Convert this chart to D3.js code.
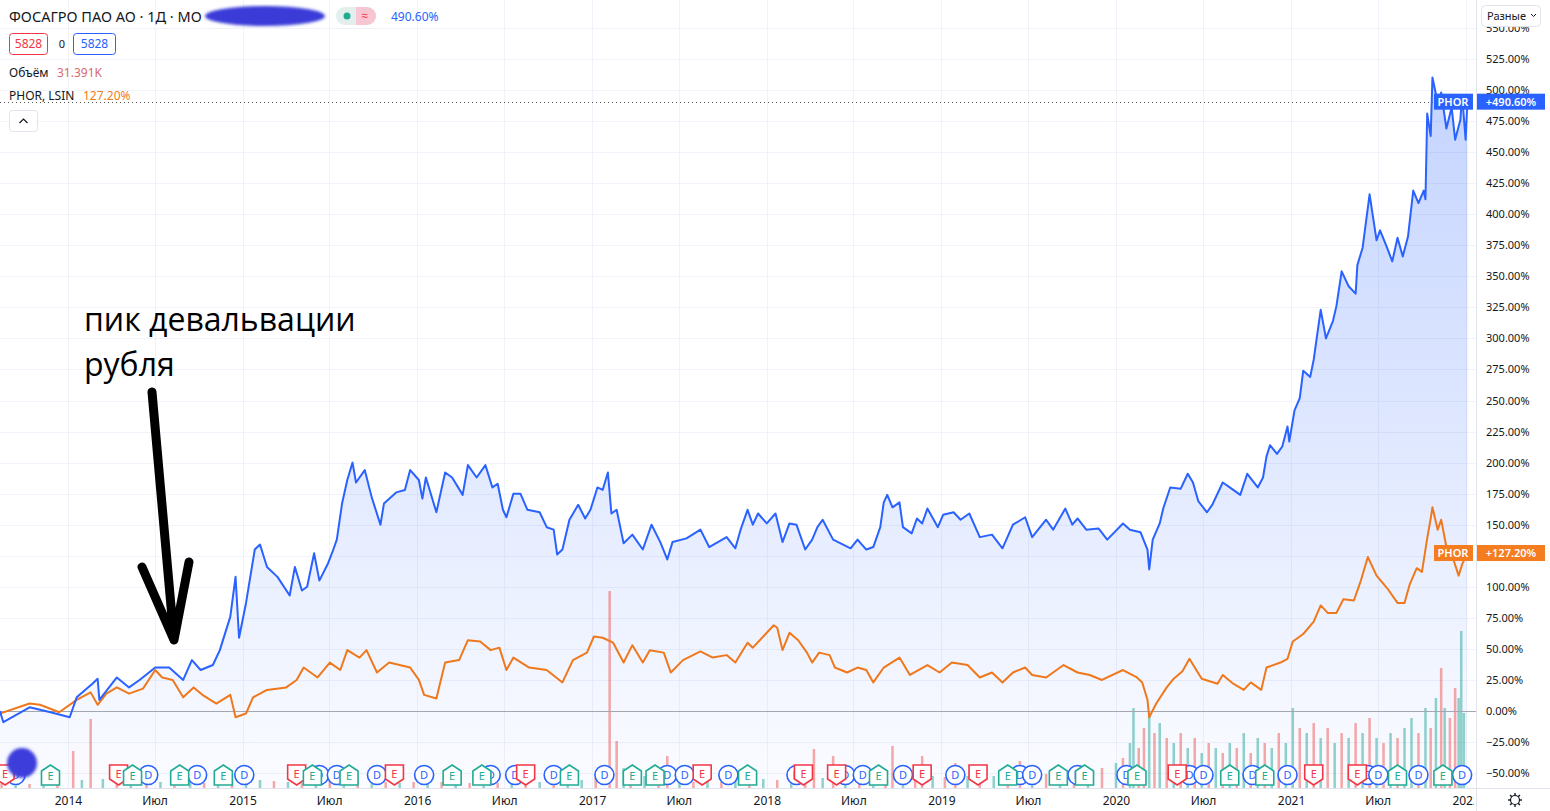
<!DOCTYPE html>
<html><head><meta charset="utf-8">
<script src="https://cdn.jsdelivr.net/npm/d3@7"></script>
<style>
html,body{margin:0;padding:0;background:#fff;}
svg{display:block;font-family:"Noto Sans","Open Sans",sans-serif;}
</style></head>
<body>
<svg id="c" width="1550" height="811"></svg>
<script>
// ---------- DATA (decimal year, % change) ----------
const phosagroSeries = [
[2013.61,0],[2013.63,-9],[2013.78,3],[2013.90,-1],[2014.01,-5],[2014.05,11],[2014.14,22],[2014.17,26],[2014.18,9],
[2014.28,27],[2014.35,19],[2014.41,25],[2014.50,35],[2014.58,35],[2014.66,25],[2014.71,41],[2014.76,33],[2014.83,37],
[2014.87,49],[2014.93,76],[2014.96,108],[2014.98,59],[2015.02,87],[2015.07,130],[2015.10,134],[2015.14,116],[2015.20,108],
[2015.27,93],[2015.30,116],[2015.34,97],[2015.37,100],[2015.41,127],[2015.44,105],[2015.49,119],[2015.52,130],[2015.54,138],
[2015.57,167],[2015.60,186],[2015.63,200],[2015.65,184],[2015.70,194],[2015.74,172],[2015.79,150],[2015.81,167],[2015.88,176],
[2015.93,178],[2015.96,194],[2016.01,186],[2016.03,171],[2016.05,188],[2016.11,160],[2016.16,192],[2016.20,188],[2016.26,174],
[2016.29,198],[2016.34,188],[2016.39,198],[2016.43,180],[2016.46,183],[2016.49,162],[2016.51,156],[2016.55,175],[2016.59,175],
[2016.63,162],[2016.70,160],[2016.74,148],[2016.78,146],[2016.80,126],[2016.83,130],[2016.87,154],[2016.92,166],[2016.96,155],
[2016.99,162],[2017.03,180],[2017.06,178],[2017.09,192],[2017.11,159],[2017.14,162],[2017.18,135],[2017.23,142],[2017.29,130],
[2017.34,150],[2017.39,136],[2017.43,122],[2017.46,136],[2017.54,139],[2017.62,146],[2017.67,132],[2017.77,140],[2017.82,131],
[2017.85,146],[2017.89,162],[2017.92,150],[2017.95,159],[2018.00,151],[2018.05,159],[2018.09,136],[2018.13,151],[2018.17,150],
[2018.22,130],[2018.26,138],[2018.29,148],[2018.32,154],[2018.38,138],[2018.48,131],[2018.52,138],[2018.57,130],[2018.61,132],
[2018.65,148],[2018.67,168],[2018.69,174],[2018.72,164],[2018.76,168],[2018.78,148],[2018.83,143],[2018.86,155],[2018.89,151],
[2018.92,163],[2018.98,148],[2019.01,158],[2019.07,160],[2019.11,154],[2019.16,159],[2019.22,140],[2019.29,142],[2019.35,131],
[2019.41,150],[2019.48,156],[2019.52,140],[2019.60,154],[2019.64,146],[2019.71,163],[2019.75,150],[2019.78,155],[2019.83,146],
[2019.90,147],[2019.95,138],[2020.04,151],[2020.08,146],[2020.14,144],[2020.18,130],[2020.19,114],[2020.21,138],[2020.25,151],
[2020.27,163],[2020.31,180],[2020.37,179],[2020.41,191],[2020.44,184],[2020.47,169],[2020.52,160],[2020.55,166],[2020.61,184],
[2020.65,180],[2020.71,174],[2020.75,191],[2020.81,180],[2020.84,188],[2020.86,205],[2020.88,214],[2020.92,207],[2020.95,213],
[2020.98,229],[2020.99,217],[2021.02,242],[2021.05,252],[2021.07,274],[2021.11,269],[2021.13,283],[2021.15,303],[2021.17,323],
[2021.20,300],[2021.24,314],[2021.26,326],[2021.29,354],[2021.33,342],[2021.37,336],[2021.38,359],[2021.41,373],[2021.45,416],
[2021.49,379],[2021.51,387],[2021.55,373],[2021.58,362],[2021.61,381],[2021.64,366],[2021.67,382],[2021.70,419],[2021.73,409],
[2021.76,419],[2021.77,412],[2021.78,481],[2021.80,463],[2021.81,510],[2021.84,490],[2021.86,498],[2021.89,469],[2021.92,486],
[2021.94,460],[2021.97,476],[2021.98,496],[2022.00,460],[2022.01,490.6]
];
const phorSeries = [
[2013.61,-2],[2013.78,6],[2013.84,5],[2013.95,-1],[2014.05,9],[2014.13,15],[2014.17,5],[2014.22,14],[2014.28,19],[2014.35,14],
[2014.43,18],[2014.50,33],[2014.54,27],[2014.60,25],[2014.66,11],[2014.72,19],[2014.77,13],[2014.85,6],[2014.93,13],[2014.96,-5],
[2015.02,-2],[2015.06,11],[2015.14,17],[2015.25,19],[2015.31,25],[2015.35,35],[2015.43,27],[2015.50,39],[2015.56,33],[2015.60,49],
[2015.67,43],[2015.71,49],[2015.77,31],[2015.84,39],[2015.96,35],[2016.01,25],[2016.04,13],[2016.11,10],[2016.16,39],[2016.24,41],
[2016.29,57],[2016.36,56],[2016.42,49],[2016.47,51],[2016.51,33],[2016.55,43],[2016.64,35],[2016.74,33],[2016.83,23],[2016.89,41],
[2016.97,47],[2017.01,60],[2017.06,59],[2017.12,55],[2017.18,39],[2017.23,53],[2017.29,39],[2017.33,49],[2017.41,47],[2017.45,31],
[2017.52,41],[2017.62,48],[2017.69,43],[2017.77,45],[2017.82,39],[2017.89,55],[2017.92,51],[2017.98,60],[2018.04,69],[2018.06,67],
[2018.09,49],[2018.13,63],[2018.18,57],[2018.23,47],[2018.26,39],[2018.30,47],[2018.36,45],[2018.39,35],[2018.46,31],[2018.52,35],
[2018.57,33],[2018.61,23],[2018.67,35],[2018.76,43],[2018.82,29],[2018.92,37],[2018.99,31],[2019.06,39],[2019.15,37],[2019.22,27],
[2019.29,31],[2019.35,23],[2019.41,31],[2019.48,35],[2019.52,29],[2019.60,27],[2019.70,37],[2019.78,31],[2019.85,29],[2019.92,25],
[2020.04,33],[2020.12,27],[2020.15,23],[2020.18,9],[2020.19,-5],[2020.23,6],[2020.29,19],[2020.33,26],[2020.38,32],[2020.42,42],
[2020.45,35],[2020.49,26],[2020.58,22],[2020.61,29],[2020.67,22],[2020.73,17],[2020.77,23],[2020.83,17],[2020.86,35],[2020.94,39],
[2020.98,42],[2021.01,56],[2021.07,62],[2021.13,72],[2021.17,85],[2021.21,79],[2021.26,79],[2021.30,90],[2021.36,89],[2021.40,105],
[2021.44,124],[2021.49,109],[2021.55,99],[2021.61,87],[2021.65,87],[2021.68,102],[2021.72,115],[2021.75,112],[2021.78,139],
[2021.80,155],[2021.81,164],[2021.84,146],[2021.86,154],[2021.89,132],[2021.93,122],[2021.96,109],[2021.98,118],[2022.01,127.2]
];
// volume (thousand shares, estimated) with direction u/d
const volumeSeries = [
[2013.62,25,'d'],[2013.70,30,'u'],[2013.78,20,'d'],[2013.86,25,'u'],[2013.94,30,'d'],[2014.03,185,'d'],[2014.08,40,'u'],[2014.13,345,'d'],
[2014.20,45,'u'],[2014.28,35,'d'],[2014.36,30,'u'],[2014.45,50,'d'],[2014.53,30,'u'],[2014.61,25,'d'],[2014.70,30,'u'],[2014.78,25,'d'],
[2014.86,35,'u'],[2014.94,45,'d'],[2015.02,50,'u'],[2015.10,40,'u'],[2015.18,35,'d'],[2015.26,30,'u'],[2015.34,25,'d'],[2015.42,30,'u'],
[2015.50,35,'d'],[2015.58,40,'u'],[2015.66,30,'d'],[2015.74,25,'u'],[2015.82,30,'d'],[2015.90,25,'u'],[2015.98,30,'d'],[2016.06,25,'u'],
[2016.14,30,'d'],[2016.22,35,'u'],[2016.30,25,'d'],[2016.38,30,'u'],[2016.46,25,'d'],[2016.54,30,'u'],[2016.62,25,'d'],[2016.70,30,'u'],
[2016.78,35,'d'],[2016.86,30,'u'],[2016.94,40,'u'],[2017.02,50,'d'],[2017.10,985,'d'],[2017.14,235,'d'],[2017.18,100,'u'],[2017.22,75,'d'],
[2017.30,60,'u'],[2017.38,40,'d'],[2017.43,160,'d'],[2017.50,35,'u'],[2017.58,30,'d'],[2017.66,40,'u'],[2017.74,30,'d'],[2017.82,35,'u'],
[2017.90,40,'d'],[2017.98,45,'u'],[2018.06,40,'d'],[2018.14,50,'u'],[2018.22,60,'d'],[2018.27,195,'d'],[2018.32,50,'u'],[2018.38,160,'d'],
[2018.45,45,'u'],[2018.53,40,'d'],[2018.61,50,'u'],[2018.68,70,'d'],[2018.72,210,'d'],[2018.78,60,'u'],[2018.85,50,'d'],[2018.89,160,'d'],
[2018.95,60,'u'],[2019.02,55,'d'],[2019.08,125,'d'],[2019.15,60,'u'],[2019.22,50,'d'],[2019.30,60,'u'],[2019.38,70,'d'],[2019.45,135,'d'],
[2019.52,60,'u'],[2019.60,70,'d'],[2019.68,75,'u'],[2019.76,90,'d'],[2019.84,80,'u'],[2019.92,100,'d'],
[2020.00,125,'u'],[2020.04,150,'d'],[2020.08,225,'u'],[2020.10,400,'u'],[2020.13,200,'d'],[2020.16,300,'d'],[2020.19,375,'u'],[2020.22,275,'d'],
[2020.25,325,'u'],[2020.29,250,'d'],[2020.33,225,'u'],[2020.37,275,'d'],[2020.41,200,'u'],[2020.45,250,'d'],[2020.49,175,'u'],[2020.53,225,'d'],
[2020.57,200,'u'],[2020.61,175,'d'],[2020.65,225,'u'],[2020.69,200,'d'],[2020.73,275,'u'],[2020.77,175,'d'],[2020.81,250,'u'],[2020.85,225,'d'],
[2020.89,200,'u'],[2020.93,275,'d'],[2020.97,225,'u'],[2021.01,400,'u'],[2021.05,300,'d'],[2021.09,275,'u'],[2021.13,325,'d'],[2021.17,250,'u'],
[2021.21,300,'d'],[2021.25,225,'u'],[2021.29,275,'d'],[2021.33,250,'u'],[2021.37,325,'d'],[2021.41,275,'u'],[2021.45,350,'d'],[2021.49,250,'u'],
[2021.53,225,'d'],[2021.57,275,'u'],[2021.61,250,'d'],[2021.65,300,'u'],[2021.69,350,'u'],[2021.73,275,'d'],[2021.77,400,'u'],[2021.80,300,'d'],
[2021.83,450,'u'],[2021.86,600,'d'],[2021.88,400,'u'],[2021.91,350,'d'],[2021.94,500,'d'],[2021.96,450,'u'],[2021.975,785,'u'],[2021.99,375,'u']
];
// events
const earningsBeat = [2013.90,2014.37,2014.64,2014.89,2015.40,2015.61,2016.20,2016.37,2016.87,2017.23,2017.36,2017.89,2018.64,2019.38,2019.67,2019.82,2020.12,2020.65,2020.85,2021.61,2021.87];
const earningsMiss = [2013.64,2014.29,2015.31,2015.87,2016.62,2017.63,2018.21,2018.40,2018.89,2019.21,2020.35,2021.13,2021.38];
const dividends = [2013.70,2014.46,2014.74,2015.01,2015.44,2015.54,2015.77,2016.04,2016.42,2016.56,2016.78,2017.07,2017.43,2017.53,2017.78,2018.17,2018.45,2018.55,2018.78,2019.08,2019.45,2019.52,2019.78,2020.06,2020.42,2020.50,2020.78,2020.98,2021.44,2021.50,2021.73,2021.98];
const yTicks = [-50,-25,0,25,50,75,100,125,150,175,200,225,250,275,300,325,350,375,400,425,450,475,500,525,550];
const xYears = [2014,2015,2016,2017,2018,2019,2020,2021,2022];
const lastPhosagro = 490.60, lastPhor = 127.20;

// ---------- HELPERS ----------
function yd(t){const y=Math.floor(t);const s=Date.UTC(y,0,1),e=Date.UTC(y+1,0,1);return new Date(s+(t-y)*(e-s));}
const W=1550,H=811, plotR=1476, plotB=788;
const svg=d3.select('#c');
const x=d3.scaleUtc().domain([yd(2013.6108),yd(2022.0595)]).range([0,plotR]);
const y=d3.scaleLinear().domain([0,500]).range([711,90]);
const vy=d3.scaleLinear().domain([0,1000]).range([0,200]);
const pfmt=v=>(v<0?'\u2212':'')+Math.abs(v).toFixed(2)+'%';

const defs=svg.append('defs');
const g1=defs.append('linearGradient').attr('id','ag').attr('gradientUnits','userSpaceOnUse').attr('x1',0).attr('x2',0).attr('y1',y(520)).attr('y2',plotB);
g1.append('stop').attr('offset','0').attr('stop-color','#2962ff').attr('stop-opacity',0.28);
g1.append('stop').attr('offset','1').attr('stop-color','#2962ff').attr('stop-opacity',0.02);
defs.append('filter').attr('id','blur').append('feGaussianBlur').attr('stdDeviation',1.5);
defs.append('clipPath').attr('id','pc').append('rect').attr('x',0).attr('y',0).attr('width',plotR).attr('height',plotB);
defs.append('clipPath').attr('id','xc').append('rect').attr('x',0).attr('y',plotB).attr('width',plotR-2).attr('height',H-plotB);

// grid
const grid=svg.append('g');
grid.selectAll('line.h').data(yTicks).join('line').attr('x1',0).attr('x2',plotR).attr('y1',d=>Math.round(y(d))+0.5).attr('y2',d=>Math.round(y(d))+0.5).attr('stroke','#f0f3fa');
const xTickDates=[];xYears.forEach(yr=>{xTickDates.push(new Date(Date.UTC(yr,0,1)));if(yr<2022)xTickDates.push(new Date(Date.UTC(yr,6,1)));});
grid.selectAll('line.v').data(xTickDates).join('line').attr('x1',d=>Math.round(x(d))+0.5).attr('x2',d=>Math.round(x(d))+0.5).attr('y1',0).attr('y2',plotB).attr('stroke','#f0f3fa');

const plot=svg.append('g').attr('clip-path','url(#pc)');
const bp=phosagroSeries.map(d=>({date:yd(d[0]),v:d[1]}));
const op=phorSeries.map(d=>({date:yd(d[0]),v:d[1]}));
plot.append('path').datum(bp).attr('d',d3.area().x(d=>x(d.date)).y0(plotB).y1(d=>y(d.v))).attr('fill','url(#ag)');

// volume
plot.append('g').selectAll('rect').data(volumeSeries).join('rect')
 .attr('x',d=>x(yd(d[0]))-1.25).attr('width',2.5).attr('y',d=>plotB-vy(d[1])).attr('height',d=>vy(d[1]))
 .attr('fill',d=>d[2]==='u'?'rgba(38,166,154,0.5)':'rgba(239,83,80,0.5)');

// zero line & last value line
plot.append('line').attr('x1',0).attr('x2',plotR).attr('y1',Math.round(y(0))+0.5).attr('y2',Math.round(y(0))+0.5).attr('stroke','#a3a6af');
plot.append('line').attr('x1',0).attr('x2',1434).attr('y1',Math.round(y(lastPhosagro))+0.5).attr('y2',Math.round(y(lastPhosagro))+0.5).attr('stroke','#555').attr('stroke-dasharray','1,3');

const line=d3.line().x(d=>x(d.date)).y(d=>y(d.v));
plot.append('path').datum(op).attr('d',line).attr('fill','none').attr('stroke','#f0781c').attr('stroke-width',2).attr('stroke-linejoin','round');
plot.append('path').datum(bp).attr('d',line).attr('fill','none').attr('stroke','#2962ff').attr('stroke-width',2).attr('stroke-linejoin','round');

// event markers
const ev=svg.append('g').attr('font-size',11).attr('text-anchor','middle');
const EY=775;
function house(g,t,up){
  const cx=x(yd(t));
  const pts=up?[[-9,-4],[0,-10],[9,-4],[9,10],[-9,10]]:[[-9,-10],[9,-10],[9,4],[0,10],[-9,4]];
  const col=up?'#22ab94':'#f23645';
  g.append('polygon').attr('points',pts.map(p=>[cx+p[0],EY+p[1]].join(',')).join(' ')).attr('fill','#fff').attr('stroke',col).attr('stroke-width',1.6);
  g.append('text').attr('x',cx).attr('y',EY+(up?5:3)).attr('fill',col).text('E');
}
dividends.forEach(t=>{const cx=x(yd(t));ev.append('circle').attr('cx',cx).attr('cy',EY).attr('r',9.5).attr('fill','#fff').attr('stroke','#2962ff').attr('stroke-width',1.6);ev.append('text').attr('x',cx).attr('y',EY+4).attr('fill','#2962ff').text('D');});
earningsMiss.forEach(t=>house(ev,t,false));
earningsBeat.forEach(t=>house(ev,t,true));

// axes
svg.append('line').attr('x1',plotR+0.5).attr('x2',plotR+0.5).attr('y1',0).attr('y2',H).attr('stroke','#e0e3eb');
svg.append('line').attr('x1',0).attr('x2',W).attr('y1',plotB+0.5).attr('y2',plotB+0.5).attr('stroke','#e0e3eb');
const ya=svg.append('g').attr('transform',`translate(${plotR},0)`)
 .call(d3.axisRight(y).tickValues(yTicks).tickFormat(pfmt).tickSize(0).tickPadding(10));
ya.select('.domain').remove();
ya.selectAll('text').attr('font-size',11).attr('fill','#131722').attr('font-family','"Noto Sans",sans-serif');
const xa=svg.append('g').attr('clip-path','url(#xc)').append('g').attr('transform',`translate(0,${plotB})`)
 .call(d3.axisBottom(x).tickValues(xTickDates).tickFormat(d=>d.getUTCMonth()===0?d.getUTCFullYear():'Июл').tickSize(0).tickPadding(8));
xa.select('.domain').remove();
xa.selectAll('text').attr('font-size',12).attr('fill','#131722').attr('font-family','"Noto Sans",sans-serif');

// price labels
function plab(v,col,txt){
  const cy=y(v);
  svg.append('rect').attr('x',1434).attr('y',cy-8).attr('width',39).attr('height',16).attr('fill',col);
  svg.append('text').attr('x',1453).attr('y',cy+4).attr('text-anchor','middle').attr('font-size',11).attr('font-weight',600).attr('fill','#fff').text(txt);
  svg.append('rect').attr('x',1477).attr('y',cy-8).attr('width',68).attr('height',16).attr('fill',col);
  svg.append('text').attr('x',1511).attr('y',cy+4).attr('text-anchor','middle').attr('font-size',11).attr('font-weight',600).attr('fill','#fff').text('+'+v.toFixed(2)+'%');
}
plab(lastPhor,'#f57c1f','PHOR');
plab(lastPhosagro,'#2962ff','PHOR');

// "Разные" button
svg.append('rect').attr('x',1481.5).attr('y',5.5).attr('width',59).attr('height',21).attr('rx',4).attr('fill','#fff').attr('stroke','#e0e3eb');
svg.append('text').attr('x',1487).attr('y',20).attr('font-size',11).attr('fill','#131722').text('Разные');
svg.append('path').attr('d','M1531,14 l2.5,2.5 l2.5,-2.5').attr('fill','none').attr('stroke','#131722').attr('stroke-width',1);

// gear
const gear=svg.append('g').attr('transform','translate(1515,800)');
gear.append('circle').attr('r',4.5).attr('fill','none').attr('stroke','#131722').attr('stroke-width',1.2);
d3.range(8).forEach(i=>{const a=i*Math.PI/4;gear.append('line').attr('x1',4.5*Math.cos(a)).attr('y1',4.5*Math.sin(a)).attr('x2',7*Math.cos(a)).attr('y2',7*Math.sin(a)).attr('stroke','#131722').attr('stroke-width',1.4);});

// header
const hd=svg.append('g').attr('font-size',13);
hd.append('text').attr('x',9).attr('y',22).attr('font-size',14.5).attr('fill','#131722').text('ФОСАГРО ПАО АО · 1Д · МО');
hd.append('ellipse').attr('cx',265).attr('cy',16).attr('rx',60).attr('ry',10).attr('fill','#3a3ad8').attr('filter','url(#blur)');
hd.append('rect').attr('x',336).attr('y',7).attr('width',40).attr('height',18).attr('rx',9).attr('fill','#e3efec');
hd.append('path').attr('d','M356,7 h11 a9,9 0 0 1 0,18 h-11 z').attr('fill','#f8c6d3');
hd.append('circle').attr('cx',347).attr('cy',16).attr('r',3.5).attr('fill','#22ab94');
hd.append('text').attr('x',365).attr('y',20).attr('text-anchor','middle').attr('font-size',12).attr('fill','#f23645').text('≈');
hd.append('text').attr('x',391).attr('y',21).attr('font-size',12).attr('fill','#2962ff').text('490.60%');
hd.append('rect').attr('x',9.5).attr('y',33.5).attr('width',38).attr('height',21).attr('rx',3).attr('fill','#fff').attr('stroke','#f23645');
hd.append('text').attr('x',28.5).attr('y',48).attr('text-anchor','middle').attr('font-size',12).attr('fill','#f23645').text('5828');
hd.append('text').attr('x',62).attr('y',48).attr('text-anchor','middle').attr('font-size',11).attr('fill','#131722').text('0');
hd.append('rect').attr('x',73.5).attr('y',33.5).attr('width',42).attr('height',21).attr('rx',3).attr('fill','#fff').attr('stroke','#2962ff');
hd.append('text').attr('x',94.5).attr('y',48).attr('text-anchor','middle').attr('font-size',12).attr('fill','#2962ff').text('5828');
hd.append('text').attr('x',9).attr('y',77).attr('font-size',12).attr('fill','#131722').text('Объём');
hd.append('text').attr('x',57).attr('y',77).attr('font-size',12).attr('fill','#d9696b').text('31.391K');
hd.append('text').attr('x',9).attr('y',100).attr('font-size',12).attr('fill','#131722').text('PHOR, LSIN');
hd.append('text').attr('x',83).attr('y',100).attr('font-size',12).attr('fill','#f57c1f').text('127.20%');
hd.append('rect').attr('x',9.5).attr('y',110.5).attr('width',28).attr('height',21).attr('rx',3).attr('fill','#fff').attr('stroke','#e0e3eb');
hd.append('path').attr('d','M19.5,123 l4,-4 l4,4').attr('fill','none').attr('stroke','#131722').attr('stroke-width',1.2);

// blob bottom-left
svg.append('circle').attr('cx',22).attr('cy',763).attr('r',15).attr('fill','#3c3cdc').attr('filter','url(#blur)');

// annotation
const an=svg.append('g');
an.append('text').attr('x',84).attr('y',331).attr('font-size',32).attr('fill','#000').attr('font-family','"Open Sans",sans-serif').text('пик девальвации');
an.append('text').attr('x',84).attr('y',376).attr('font-size',32).attr('fill','#000').attr('font-family','"Open Sans",sans-serif').text('рубля');
an.append('path').attr('d','M152,392 L174,640 M142,567 L174,640 L189,562').attr('fill','none').attr('stroke','#000').attr('stroke-width',9).attr('stroke-linecap','round').attr('stroke-linejoin','round');
</script>
</body></html>
